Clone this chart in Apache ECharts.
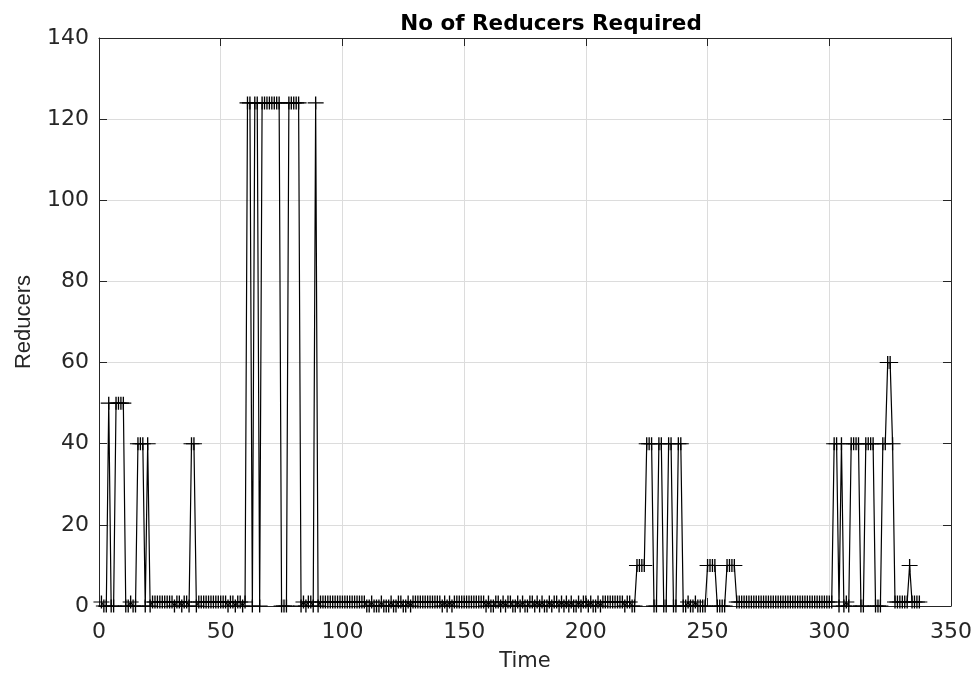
<!DOCTYPE html>
<html><head><meta charset="utf-8">
<script src="https://cdn.jsdelivr.net/npm/echarts@6/dist/echarts.min.js"></script>
<style>html,body{margin:0;padding:0;background:#fff}#c{width:977px;height:677px}</style>
</head><body><div id="c"></div>
<script>
// Number of reducers required at each time step (time = 1, 2, 3, ...)
const reducers = [
  // t 1-21
  1,0,0,50,0,0,50,50,50,50,0,0,1,0,0,40,40,40,0,40,0,
  // t 22-37
  1,1,1,1,1,1,1,1,1,0,1,1,0,1,1,0,
  // t 38-39
  40,40,
  // t 40-60
  0,1,1,1,1,1,1,1,1,1,1,1,1,0,1,1,0,1,1,0,1,
  // t 61-90
  124,124,0,124,124,0,124,124,124,124,124,124,124,124,0,0,0,124,124,124,124,124,0,1,0,1,1,0,124,0,
  // t 91-109
  1,1,1,1,1,1,1,1,1,1,1,1,1,1,1,1,1,1,1,
  // t 110-122
  0,0,1,0,0,0,1,0,0,0,1,0,0,
  // t 123-128
  1,1,0,0,1,0,
  // t 129-140
  1,1,1,1,1,1,1,1,1,1,1,1,
  // t 141-146
  0,1,0,1,0,1,
  // t 147-158
  1,1,1,1,1,1,1,1,1,1,1,1,
  // t 159-191
  0,1,0,0,1,1,0,1,0,1, 1,0,0,1,0,1,0,0,1,1, 0,1,0,1,0,0,1,0,1,1, 0,1,0,
  // t 192-206
  1,0,1,0,0,1,0,1,1,0,1,0,0,1,0,
  // t 207-215
  1,1,1,1,1,1,1,1,1,
  // t 216-220
  0,1,1,0,0,
  // t 221-239
  10,10,10,10,40,40,40,0,0,40,40,0,0,40,40,0,0,40,40,
  // t 240-249
  0,0,1,0,0,1,0,0,0,0,
  // t 250-261
  10,10,10,10,0,0,0,0,10,10,10,10,
  // t 262-301
  1,1,1,1,1,1,1,1,1,1, 1,1,1,1,1,1,1,1,1,1, 1,1,1,1,1,1,1,1,1,1, 1,1,1,1,1,1,1,1,1,1,
  // t 302-337
  40,40,0,40,0,1,0,40,40,40,40,0,0,40,40,40,40,0,0,0,40,40,60,60,40,1,1,1,1,1,1,10,1,1,1,1
];
const firstTime = 1;
const xTicks = [0, 50, 100, 150, 200, 250, 300, 350];
const yTicks = [0, 20, 40, 60, 80, 100, 120, 140];
const titleText = 'No of Reducers Required';
const xName = 'Time';
const yName = 'Reducers';

const seriesData = reducers.map((v, i) => [firstTime + i, v]);
const ink = '#262626';
const wide = "'DejaVu Sans', Verdana, sans-serif";
const narrow = "'Liberation Sans', Arial, Helvetica, sans-serif";
const chart = echarts.init(document.getElementById('c'), null, {renderer: 'canvas'});
const baseX = {
  type: 'value', min: xTicks[0], max: xTicks[xTicks.length - 1], interval: 50
};
const baseY = {
  type: 'value', min: yTicks[0], max: yTicks[yTicks.length - 1], interval: 20
};
chart.setOption({
  animation: false,
  backgroundColor: '#fff',
  title: {
    text: titleText, left: 546, top: 8, textAlign: 'center',
    textStyle: {fontFamily: wide, fontWeight: 'bold', fontSize: 21.5, color: '#000'}
  },
  grid: {left: 99, right: 26, top: 38, bottom: 71, show: false},
  xAxis: [
    Object.assign({}, baseX, {
      position: 'bottom', name: xName, nameLocation: 'middle', nameGap: 45,
      nameTextStyle: {fontFamily: wide, fontSize: 21, color: ink},
      axisLine: {show: true, onZero: false, lineStyle: {color: ink, width: 1}},
      axisTick: {show: true, inside: true, length: 8, lineStyle: {color: ink}},
      axisLabel: {fontFamily: wide, fontSize: 22, color: ink, margin: 15},
      splitLine: {show: true, lineStyle: {color: '#dcdcdc', width: 1}}
    }),
    Object.assign({}, baseX, {
      position: 'top',
      axisLine: {show: true, onZero: false, lineStyle: {color: ink, width: 1}},
      axisTick: {show: true, inside: true, length: 8, lineStyle: {color: ink}},
      axisLabel: {show: false}, splitLine: {show: false}
    })
  ],
  yAxis: [
    Object.assign({}, baseY, {
      position: 'left', name: yName, nameLocation: 'middle', nameGap: 64,
      nameTextStyle: {fontFamily: narrow, fontSize: 22, color: ink},
      axisLine: {show: true, onZero: false, lineStyle: {color: ink, width: 1}},
      axisTick: {show: true, inside: true, length: 8, lineStyle: {color: ink}},
      axisLabel: {fontFamily: wide, fontSize: 22, color: ink, margin: 10},
      splitLine: {show: true, lineStyle: {color: '#dcdcdc', width: 1}}
    }),
    Object.assign({}, baseY, {
      position: 'right',
      axisLine: {show: true, onZero: false, lineStyle: {color: ink, width: 1}},
      axisTick: {show: true, inside: true, length: 8, lineStyle: {color: ink}},
      axisLabel: {show: false}, splitLine: {show: false}
    })
  ],
  series: [{
    type: 'line',
    xAxisIndex: 0, yAxisIndex: 0,
    data: seriesData,
    showSymbol: true, showAllSymbol: true,
    symbol: 'path://M0,5L10,5M5,0L5,10',
    symbolSize: [16, 13],
    itemStyle: {color: 'rgba(0,0,0,0)', borderColor: '#000', borderWidth: 1.2},
    lineStyle: {color: '#000', width: 1.2},
    clip: false
  }]
});
</script></body></html>
